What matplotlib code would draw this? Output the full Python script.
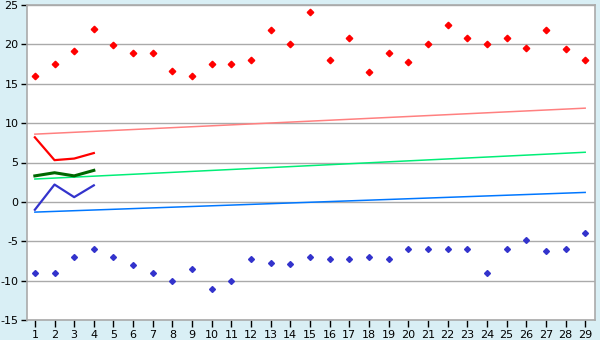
import matplotlib
matplotlib.use("Agg")
import matplotlib.pyplot as plt

plt.rcParams["axes.unicode_minus"] = False

days = list(range(1, 30))
high_pts = [16.0, 17.5, 19.2, 21.9, 19.9, 18.9, 18.9, 16.6, 16.0, 17.5,
            17.5, 18.0, 21.8, 20.0, 24.1, 18.0, 20.8, 16.5, 18.9, 17.8,
            20.0, 22.5, 20.8, 20.1, 20.8, 19.5, 21.8, 19.4, 18.0]
low_pts = [-9.0, -9.0, -7.0, -6.0, -7.0, -8.0, -9.0, -10.0, -8.5, -11.0,
           -10.0, -7.2, -7.8, -7.9, -7.0, -7.3, -7.2, -7.0, -7.2, -6.0,
           -6.0, -6.0, -6.0, -9.0, -6.0, -4.9, -6.3, -6.0, -4.0]

first_days = [1, 2, 3, 4]
red_line = [8.2, 5.3, 5.5, 6.2]
green_line = [3.3, 3.7, 3.3, 4.0]
blue_line = [-1.0, 2.2, 0.6, 2.1]

trend_x = [1, 29]
red_trend = [8.6, 11.9]
green_trend = [2.9, 6.3]
blue_trend = [-1.3, 1.2]

bg = "#d9eff5"
grid_col = "#aaaaaa"

fig = plt.figure(figsize=(6, 3.4), dpi=100, facecolor=bg)
ax = fig.add_axes([27 / 600, 20 / 340, 568 / 600, 315 / 340])
ax.set_facecolor("white")

ax.plot(trend_x, red_trend, color="#ff8080", lw=1.1)
ax.plot(trend_x, green_trend, color="#00ee77", lw=1.1)
ax.plot(trend_x, blue_trend, color="#0077ff", lw=1.1)

ax.plot(first_days, red_line, color="#ff0000", lw=1.6)
ax.plot(first_days, green_line, color="#006600", lw=2.2)
ax.plot(first_days, blue_line, color="#3333cc", lw=1.6)

ax.plot(days, high_pts, ls="none", marker="D", ms=3.3, color="#ff0000")
ax.plot(days, low_pts, ls="none", marker="D", ms=3.0, color="#3333cc")

ax.set_xlim(0.6, 29.5)
ax.set_ylim(-15, 25)
ax.set_xticks(days)
ax.set_yticks(range(-15, 26, 5))
ax.yaxis.grid(True, color=grid_col, lw=1)
ax.set_axisbelow(True)
for s in ax.spines.values():
    s.set_color(grid_col)
    s.set_linewidth(1.2)
ax.tick_params(axis="both", colors="black", labelsize=8, length=4,
               width=1, pad=2)
ax.tick_params(axis="x", length=5)

fig.savefig("out.png", dpi=100, facecolor=bg)
